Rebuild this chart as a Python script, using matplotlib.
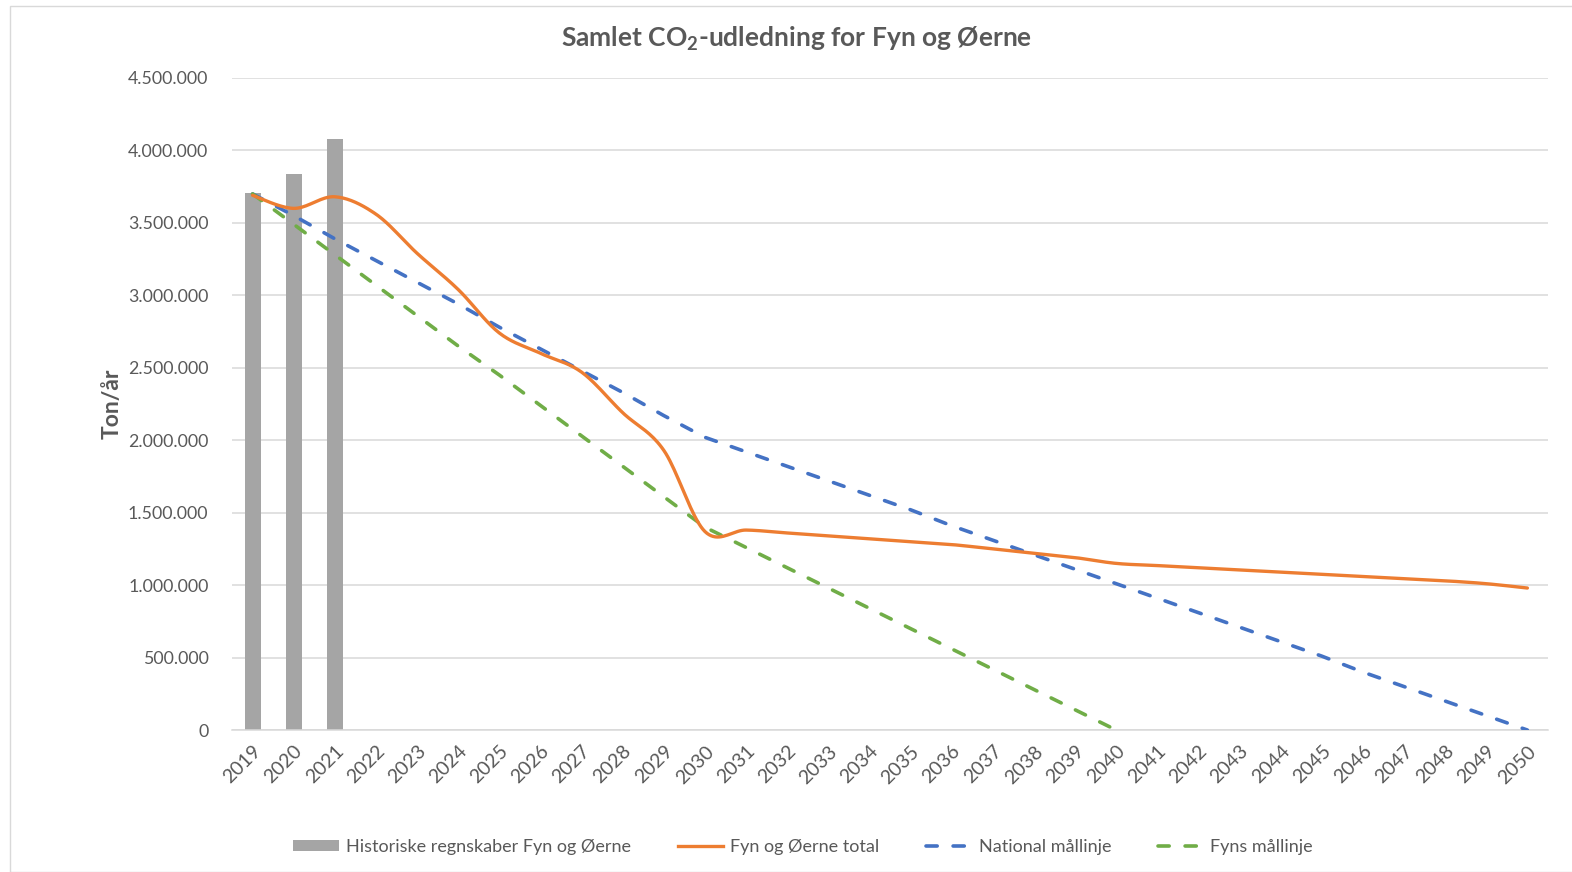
import numpy as np
import matplotlib
matplotlib.use("Agg")
import matplotlib.pyplot as plt
from matplotlib.patches import Patch, Rectangle
from matplotlib.lines import Line2D
from matplotlib.ticker import FuncFormatter

plt.rcParams["font.family"] = ["Lato", "DejaVu Sans"]
plt.rcParams["mathtext.fontset"] = "custom"
plt.rcParams["mathtext.rm"] = "Lato"
plt.rcParams["mathtext.bf"] = "Lato:bold"

# Data (ton CO2 per year)
years = list(range(2019, 2051))
hist_years = [2019, 2020, 2021]
hist_values = [3706000, 3837000, 4079000]

total = [3690000, 3600000, 3680000, 3560000, 3290000, 3040000, 2740000, 2600000,
         2470000, 2190000, 1930000, 1370000, 1380000, 1360000, 1340000, 1320000,
         1300000, 1280000, 1250000, 1220000, 1190000, 1150000, 1135000, 1120000,
         1105000, 1090000, 1075000, 1060000, 1045000, 1030000, 1010000, 980000]

national = [3700000, 3550000, 3390000, 3240000, 3090000, 2940000, 2780000, 2630000,
            2480000, 2330000, 2170000, 2020000, 1920000, 1820000, 1720000, 1620000,
            1520000, 1410000, 1310000, 1210000, 1110000, 1010000, 910000, 810000,
            710000, 610000, 510000, 400000, 300000, 200000, 100000, 0]

fyn_years = list(range(2019, 2041))
fyn = [3700000, 3490000, 3280000, 3070000, 2860000, 2650000, 2450000, 2240000,
       2030000, 1820000, 1610000, 1400000, 1260000, 1120000, 980000, 840000,
       700000, 560000, 420000, 280000, 140000, 0]

GREY = "#A5A5A5"
ORANGE = "#ED7D31"
BLUE = "#4472C4"
GREEN = "#70AD47"
TEXT = "#595959"
DASH = (3.1, 4.4)


def smooth(x, y, n=20):
    # Catmull-Rom style smoothing, like Excel's "smoothed line"
    x = np.asarray(x, float)
    y = np.asarray(y, float)
    px = np.concatenate([[x[0]], x, [x[-1]]])
    py = np.concatenate([[y[0]], y, [y[-1]]])
    xs, ys = [], []
    t = np.linspace(0, 1, n, endpoint=False)
    for i in range(1, len(px) - 2):
        p0, p1, p2, p3 = (np.array([px[j], py[j]]) for j in range(i - 1, i + 3))
        c1 = p1 + (p2 - p0) / 6
        c2 = p2 - (p3 - p1) / 6
        b = ((1 - t) ** 3)[:, None] * p1 + (3 * (1 - t) ** 2 * t)[:, None] * c1 \
            + (3 * (1 - t) * t ** 2)[:, None] * c2 + (t ** 3)[:, None] * p2
        xs.extend(b[:, 0])
        ys.extend(b[:, 1])
    xs.append(x[-1])
    ys.append(y[-1])
    return np.array(xs), np.array(ys)


fig = plt.figure(figsize=(15.72, 8.72), dpi=100)
ax = fig.add_axes([0.1476, 0.1628, 0.8371, 0.7478])

x0 = years[0]
ax.bar([y - x0 for y in hist_years], hist_values, width=0.39, color=GREY, zorder=2)

sx, sy = smooth([y - x0 for y in years], total)
ax.plot(sx, sy, color=ORANGE, lw=2.4, solid_capstyle="round", zorder=4)
ax.plot([y - x0 for y in years], national, color=BLUE, lw=2.6,
        dashes=DASH, dash_capstyle="round", zorder=3)
ax.plot([y - x0 for y in fyn_years], fyn, color=GREEN, lw=2.6,
        dashes=DASH, dash_capstyle="round", zorder=3)

ax.set_xlim(-0.5, len(years) - 0.5)
ax.set_ylim(0, 4500000)
ax.set_yticks(np.arange(0, 4500001, 500000))
ax.yaxis.set_major_formatter(FuncFormatter(lambda v, p: f"{int(v):,}".replace(",", ".")))
ax.set_xticks(range(len(years)))
ax.set_xticklabels([str(y) for y in years], rotation=45, ha="right",
                   rotation_mode="anchor")
ax.tick_params(axis="both", length=0, colors=TEXT)
ax.tick_params(axis="y", pad=17, labelsize=12.8)
ax.tick_params(axis="x", pad=9, labelsize=14)
ax.grid(axis="y", color="#D9D9D9", lw=1.1, zorder=0)
ax.set_axisbelow(True)
for s in ["top", "right", "left"]:
    ax.spines[s].set_visible(False)
ax.spines["bottom"].set_color("#D9D9D9")
ax.spines["bottom"].set_linewidth(1.1)

ax.set_ylabel("Ton/år", fontsize=16.5, fontweight="bold", color=TEXT, labelpad=4)
fig.text(0.5065, 0.956, r"Samlet CO$_\mathbf{2}$-udledning for Fyn og Øerne",
         ha="center", va="center", fontsize=19, fontweight="bold", color=TEXT)

handles = [
    Patch(facecolor=GREY, edgecolor="none"),
    Line2D([], [], color=ORANGE, lw=2.4),
    Line2D([], [], color=BLUE, lw=2.6, dashes=DASH, dash_capstyle="round"),
    Line2D([], [], color=GREEN, lw=2.6, dashes=DASH, dash_capstyle="round"),
]
labels = ["Historiske regnskaber Fyn og Øerne", "Fyn og Øerne total",
          "National mållinje", "Fyns mållinje"]
leg = fig.legend(handles, labels, loc="center", bbox_to_anchor=(0.511, 0.029),
                 ncol=4, frameon=False, fontsize=13, labelcolor=TEXT,
                 handlelength=2.5, handleheight=0.6, columnspacing=2.6,
                 handletextpad=0.4)

# chart border
fig.patches.append(Rectangle((10 / 1572, 0), 1.0, 1 - 6 / 872,
                             transform=fig.transFigure, fill=False,
                             edgecolor="#D9D9D9", lw=1.0))

fig.savefig("out.png", dpi=100)
plt.close(fig)
